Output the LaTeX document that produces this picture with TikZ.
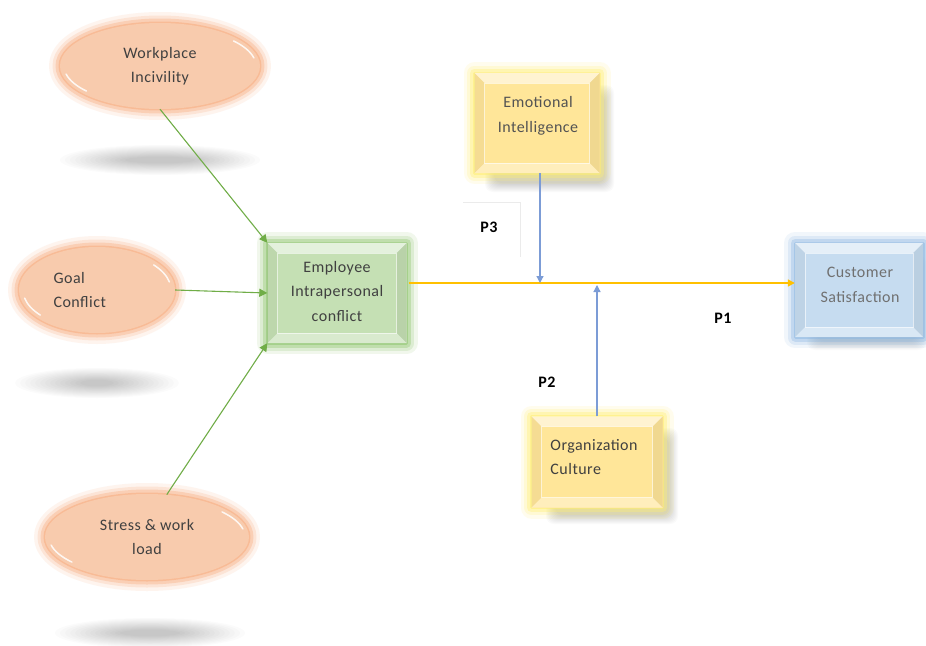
\documentclass[tikz,border=0pt]{standalone}
\usepackage{fontspec}
\setmainfont{Carlito}[LetterSpace=3]
\usetikzlibrary{shapes.geometric,arrows.meta}
\definecolor{peach}{HTML}{F8CBAD}
\definecolor{peachglow}{HTML}{F7A878}
\definecolor{greenbox}{HTML}{C5E0B4}
\definecolor{greenglow}{HTML}{8CC46A}
\definecolor{ybox}{HTML}{FFE699}
\definecolor{yglow}{HTML}{FFEE70}
\definecolor{bluebox}{HTML}{C6DCF0}
\definecolor{bglow}{HTML}{8DB8E2}
\definecolor{txt}{HTML}{404040}
\definecolor{arrgreen}{HTML}{70AD47}
\definecolor{arrblue}{HTML}{4472C4}
\definecolor{arrorange}{HTML}{FFC000}
\tikzset{
  x=1pt, y=-1pt,
  every node/.style={font=\fontsize{16}{24.5}\selectfont, text=txt},
  glow/.style={preaction={draw=#1,line width=22pt,opacity=.12,line join=round},
               preaction={draw=#1,line width=15pt,opacity=.2,line join=round},
               preaction={draw=#1,line width=9pt,opacity=.35,line join=round},
               preaction={draw=#1,line width=3pt,opacity=.5,line join=round}},
  ellnode/.style={ellipse, fill=peach, glow=peachglow, align=center, inner sep=0pt},
  boxnode/.style={rectangle, inner sep=0pt, align=center},
  gshadow/.style={fill=black, opacity=.016},
  garrow/.style={draw=arrgreen, line width=1.1pt, -{Triangle[length=8pt,width=8pt]}},
  barrow/.style={draw=arrblue!70, line width=1.2pt, -{Triangle[length=7pt,width=7pt]}},
  oarrow/.style={draw=arrorange, line width=1.6pt, -{Triangle[length=7pt,width=7pt]}},
  plabel/.style={font=\fontsize{16}{18}\selectfont\bfseries, text=black}
}
\newcommand{\mybevel}[2]{%
  \fill[white,opacity=.55] (#1.north west) -- (#1.north east) -- ([xshift=-#2,yshift=-#2]#1.north east) -- ([xshift=#2,yshift=-#2]#1.north west) -- cycle;
  \fill[white,opacity=.35] (#1.south west) -- (#1.south east) -- ([xshift=-#2,yshift=#2]#1.south east) -- ([xshift=#2,yshift=#2]#1.south west) -- cycle;
  \fill[black,opacity=.04] (#1.north west) -- ([xshift=#2,yshift=-#2]#1.north west) -- ([xshift=#2,yshift=#2]#1.south west) -- (#1.south west) -- cycle;
  \fill[black,opacity=.06] (#1.north east) -- ([xshift=-#2,yshift=-#2]#1.north east) -- ([xshift=-#2,yshift=#2]#1.south east) -- (#1.south east) -- cycle;
  \draw[white,opacity=.6,line width=0.6pt] ([xshift=#2,yshift=-#2]#1.north west) rectangle ([xshift=-#2,yshift=#2]#1.south east);
}
\begin{document}
\begin{tikzpicture}
\useasboundingbox (0,0) rectangle (926,645);
\fill[white] (0,0) rectangle (926,645);

% soft shadows under ellipses
\foreach \cx/\cy/\rx in {160/160/100, 97/383/82, 150/633/95}{
  \foreach \k in {0,...,13}{
    \fill[gshadow] (\cx,\cy) ellipse ({\rx-\k*5} and {15-\k*0.9});
  }
}

% box shadows (offset bottom right)
\foreach \xa/\ya/\xb/\yb in {485/85/614/192, 546/428/678/524, 807/255/926/350}{
  \foreach \k in {0,...,9}{
    \fill[black,opacity=.02,rounded corners=8pt] (\xa+\k,\ya+\k) rectangle (\xb-\k,\yb-\k);
  }
}

% ellipses
\node[ellnode, minimum width=200pt, minimum height=86pt] (wi) at (160,66) {Workplace\\Incivility};
\node[ellnode, minimum width=156pt, minimum height=86pt] (gc) at (97,290) {};
\node[anchor=west, align=left] (gct) at (50,290) {Goal\\Conflict};
\node[ellnode, minimum width=204pt, minimum height=86pt] (sw) at (147,537) {Stress \& work\\load};

% ellipse highlights (upper right and lower left rims)
\foreach \n/\rx in {wi/100,gc/78,sw/102}{
  \draw[white,line width=1.5pt,opacity=.85,line cap=round] (\n.center) ++(-12:{\rx-4} and 39) arc[start angle=-12,end angle=-40,x radius=\rx-4,y radius=39];
  \draw[white,line width=1.5pt,opacity=.85,line cap=round] (\n.center) ++(168:{\rx-4} and 39) arc[start angle=168,end angle=140,x radius=\rx-4,y radius=39];
}

% boxes
\node[boxnode, fill=greenbox, glow=greenglow, minimum width=139pt, minimum height=100pt] (emp) at (337,293) {};
\mybevel{emp}{10pt}
\node[align=center] at (337,291) {Employee\\Intrapersonal\\conflict};

\node[boxnode, fill=ybox, glow=yglow, minimum width=125pt, minimum height=100pt] (ei) at (537,123) {};
\mybevel{ei}{10pt}
\node[text=txt!90, align=center] at (538,116) {Emotional\\Intelligence};

\node[boxnode, fill=ybox, glow=yglow, minimum width=131pt, minimum height=91pt] (oc) at (597,462) {};
\mybevel{oc}{10pt}
\node[align=left] at (594,457) {Organization\\Culture};

\node[boxnode, fill=bluebox, glow=bglow, minimum width=128pt, minimum height=94pt] (cs) at (859,290) {};
\mybevel{cs}{10pt}
\node[text=txt!75, align=center] at (860,285) {Customer\\Satisfaction};

% connectors
\draw[garrow] (wi.south) -- (emp.north west);
\draw[garrow] (gc.east) -- (emp.west);
\draw[garrow] (sw.65) -- (emp.south west);

\coordinate (ol) at ([yshift=10pt]emp.east);
\draw[oarrow] ([xshift=2pt]ol) -- (ol -| cs.west);
\draw[barrow] ([xshift=3pt]ei.south) -- ([xshift=3pt]ei.south |- ol);
\draw[barrow] (oc.north) -- ([yshift=-2pt]oc.north |- ol);

% P labels
\draw[black!8, line width=0.8pt] (463,202) -- (520,202) -- (520,257);
\node[plabel] (p3) at (489,227) {P3};
\node[plabel] (p2) at (547,382) {P2};
\node[plabel] (p1) at (723,318) {P1};
\end{tikzpicture}
\end{document}
